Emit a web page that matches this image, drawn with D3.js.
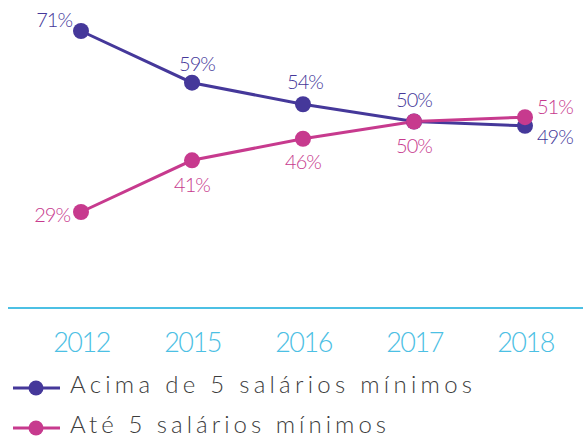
<!DOCTYPE html>
<html><head><meta charset="utf-8">
<script src="https://cdn.jsdelivr.net/npm/d3@7"></script>
<style>body{margin:0;background:#fff}svg{display:block}text{font-family:Lato,"DejaVu Sans",sans-serif}</style>
</head><body>
<svg id="c" width="583" height="439"></svg>
<script>
const years = ["2012","2015","2016","2017","2018"];
const acima = [71,59,54,50,49];
const ate = [29,41,46,50,51];
const seriesNames = ["Acima de 5 salários mínimos","Até 5 salários mínimos"];
const colors = ["#45389a","#c73a8e"];
const axisColor = "#4cc0e4";

const svg = d3.select("#c");
const x = d3.scalePoint().domain(years).range([81,525]);
const y = d3.scaleLinear().domain([29,71]).range([212,31]);

// axis line
svg.append("line").attr("x1",8).attr("x2",583).attr("y1",308).attr("y2",308)
  .attr("stroke",axisColor).attr("stroke-width",2);
const ax = d3.axisBottom(x).tickSize(0).tickPadding(0);
const axG = svg.append("g").attr("transform","translate(0,333)").call(ax);
axG.select(".domain").remove();
axG.selectAll("text").attr("fill",axisColor).attr("font-size",27).attr("font-weight",300)
  .attr("font-family","Lato,'DejaVu Sans',sans-serif").attr("letter-spacing",-1.5);

const data = [acima, ate];
const line = d3.line().x((d,i)=>x(years[i])).y(d=>y(d));
data.forEach((s,k)=>{
  svg.append("path").attr("d",line(s)).attr("fill","none").attr("stroke",colors[k]).attr("stroke-width",3);
});
data.forEach((s,k)=>{
  svg.selectAll(null).data(s).enter().append("circle")
    .attr("cx",(d,i)=>x(years[i])).attr("cy",d=>y(d)).attr("r",8).attr("fill",colors[k]);
});

// label placement: [dx, dy, anchor]
const acimaPos = [[-9,-12,"end"],[5,-20,"middle"],[2,-23,"middle"],[0,-23,"middle"],[12,10,"start"]];
const atePos = [[-11,2,"end"],[0,24,"middle"],[0,22,"middle"],[0,23,"middle"],[12,-11,"start"]];
[[acima,acimaPos],[ate,atePos]].forEach(([s,pos],k)=>{
  svg.selectAll(null).data(s).enter().append("text")
    .attr("x",(d,i)=>x(years[i])+pos[i][0]).attr("y",(d,i)=>y(d)+pos[i][1])
    .attr("text-anchor",(d,i)=>pos[i][2]).attr("dominant-baseline","central")
    .attr("fill",colors[k]).attr("font-size",20).attr("font-weight",300).attr("letter-spacing",-1)
    .text(d=>d+"%");
});

// legend
const legendWidths = [402, 316];
seriesNames.forEach((n,k)=>{
  const ly = 388 + k*40;
  svg.append("line").attr("x1",13).attr("x2",60).attr("y1",ly).attr("y2",ly).attr("stroke",colors[k]).attr("stroke-width",3);
  svg.append("circle").attr("cx",36).attr("cy",ly).attr("r",7.5).attr("fill",colors[k]);
  svg.append("text").attr("x",70).attr("y",ly+5).attr("fill","#3c3c3c").attr("font-size",24)
    .attr("font-weight",300).attr("textLength",legendWidths[k]).attr("lengthAdjust","spacing").text(n);
});
</script>
</body></html>
